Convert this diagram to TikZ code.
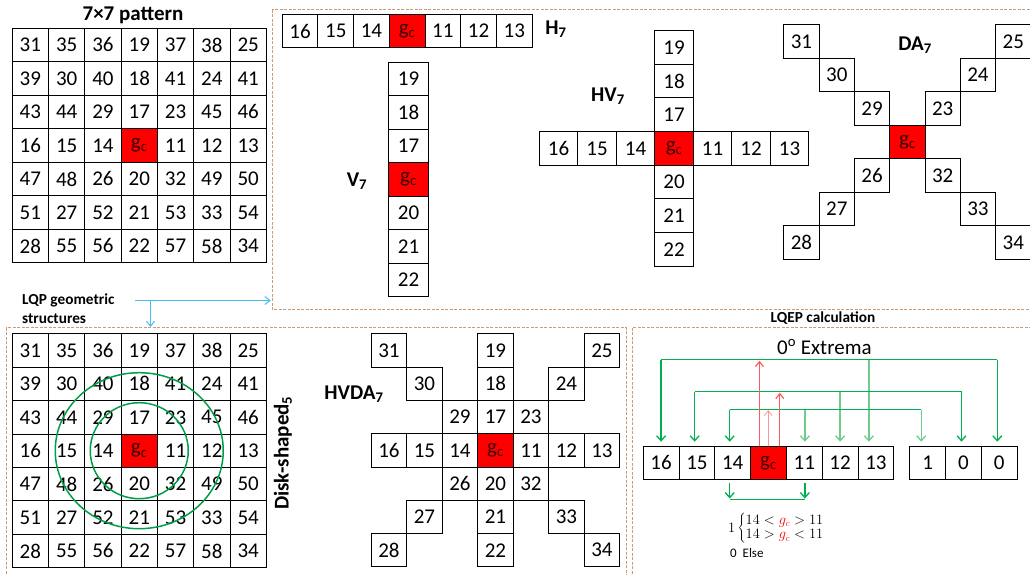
\documentclass[tikz,border=0pt]{standalone}
\usepackage{fontspec}
\setmainfont{Carlito}
\usetikzlibrary{arrows.meta,calc}
\definecolor{boxc}{RGB}{205,155,115}
\definecolor{gline}{RGB}{0,176,80}
\definecolor{glight}{RGB}{110,205,140}
\definecolor{rline}{RGB}{255,90,90}
\definecolor{rlight}{RGB}{255,150,150}
\definecolor{bline}{RGB}{70,190,240}
\definecolor{gctext}{RGB}{60,0,0}
\newcommand{\gcx}{g\textsubscript{c}}
\tikzset{
  cell/.style={draw=black, line width=1pt, inner sep=0pt, anchor=north west,
    font=\fontsize{21}{21}\selectfont, text=black},
  gcell/.style={cell, fill=red, text=gctext},
  lbl/.style={font=\bfseries\fontsize{21}{21}\selectfont, inner sep=0pt},
  small/.style={font=\bfseries\fontsize{15.3}{19}\selectfont, inner sep=0pt},
  dbox/.style={draw=boxc, line width=1pt, dash pattern=on 3pt off 1.5pt},
  garrow/.style={draw=gline, line width=1.3pt, -{Straight Barb[length=5pt,width=9pt]}},
  garrowl/.style={garrow, draw=glight},
  gseg/.style={draw=gline, line width=1.5pt},
  rarrow/.style={draw=rline, line width=1.2pt, -{Straight Barb[length=5pt,width=8pt]}},
  rarrowl/.style={rarrow, draw=rlight, line width=0.8pt},
  barrow/.style={draw=bline, line width=1pt, -{Straight Barb[length=5pt,width=8pt]}},
  ring/.style={draw=gline!90!black, line width=1.5pt}
}
\begin{document}
\begin{tikzpicture}[x=1pt,y=-1pt]
\useasboundingbox (0,0) rectangle (1030,575);
% dashed frames
\draw[dbox] (272,10) rectangle (1040,309.3);
\draw[dbox] (6,327.5) rectangle (626,590);
\draw[dbox] (632.5,327.5) rectangle (1040,590);

% ---------- 7x7 pattern ----------
\node[lbl] (tpat) at (133,15) {7×7 pattern};
\begin{scope}[cell/.append style={minimum width=36.3pt, minimum height=33.5pt}]
\foreach \row [count=\j] in {{31,35,36,19,37,38,25},{39,30,40,18,41,24,41},{43,44,29,17,23,45,46},{16,15,14,X,11,12,13},{47,48,26,20,32,49,50},{51,27,52,21,53,33,54},{28,55,56,22,57,58,34}}{
  \foreach \v [count=\i] in \row {
    \ifnum\i\j=44
      \node[gcell] (p-\i-\j) at ({11.7+(\i-1)*36.3},{27.7+(\j-1)*33.5}) {\gcx};
    \else
      \node[cell] (p-\i-\j) at ({11.7+(\i-1)*36.3},{27.7+(\j-1)*33.5}) {\v};
    \fi
  }}
\end{scope}

% ---------- H7 ----------
\begin{scope}[cell/.append style={minimum width=35.7pt, minimum height=33.3pt}]
\foreach \v [count=\i] in {16,15,14,X,11,12,13}{
  \ifnum\i=4
    \node[gcell] (h-\i) at ({281.7+(\i-1)*35.7},14) {\gcx};
  \else
    \node[cell] (h-\i) at ({281.7+(\i-1)*35.7},14) {\v};
  \fi}
\end{scope}
\node[lbl] (th) at (556,29) {H\textsubscript{7}};

% ---------- V7 ----------
\begin{scope}[cell/.append style={minimum width=40.6pt, minimum height=33.5pt}]
\foreach \v [count=\j] in {19,18,17,X,20,21,22}{
  \ifnum\j=4
    \node[gcell] (v-\j) at (387.7,{61.7+(\j-1)*33.5}) {\gcx};
  \else
    \node[cell] (v-\j) at (387.7,{61.7+(\j-1)*33.5}) {\v};
  \fi}
\end{scope}
\node[lbl] (tv) at (357,181) {V\textsubscript{7}};

% ---------- HV7 ----------
\begin{scope}[cell/.append style={minimum width=38.5pt, minimum height=33.6pt}]
\foreach \v [count=\i] in {16,15,14,X,11,12,13}{
  \ifnum\i=4
    \node[gcell] (hv-\i-4) at ({538.8+(\i-1)*38.5},{30.3+3*33.6}) {\gcx};
  \else
    \node[cell] (hv-\i-4) at ({538.8+(\i-1)*38.5},{30.3+3*33.6}) {\v};
  \fi}
\foreach \v [count=\j] in {19,18,17,X,20,21,22}{
  \ifnum\j=4\else
    \node[cell] (hv-4-\j) at (654.3,{30.3+(\j-1)*33.6}) {\v};
  \fi}
\end{scope}
\node[lbl] (thv) at (608,96) {HV\textsubscript{7}};

% ---------- DA7 ----------
\begin{scope}[cell/.append style={minimum width=35.3pt, minimum height=33.5pt}]
\foreach \i/\j/\v in {1/1/31,2/2/30,3/3/29,5/5/32,6/6/33,7/7/34,7/1/25,6/2/24,5/3/23,3/5/26,2/6/27,1/7/28}{
  \node[cell] (da-\i-\j) at ({783.3+(\i-1)*35.3},{24.3+(\j-1)*33.5}) {\v};}
\node[gcell] (da-4-4) at ({783.3+3*35.3},{24.3+3*33.5}) {\gcx};
\end{scope}
\node[lbl] (tda) at (915,45) {DA\textsubscript{7}};

% ---------- LQP geometric structures ----------
\node[small, anchor=west, align=left] (tlqp) at (22,308.5) {LQP geometric\\structures};
\coordinate (ba) at (135,300.5);
\coordinate (bb) at (270.7,300.5);
\coordinate (bc) at (150.5,300.5);
\coordinate (bd) at (150.5,327);
\draw[barrow] (ba) -- (bb);
\draw[barrow] (bc) -- (bd);

% ---------- Disk-shaped ----------
\begin{scope}[cell/.append style={minimum width=36.3pt, minimum height=33.4pt}]
\foreach \row [count=\j] in {{31,35,36,19,37,38,25},{39,30,40,18,41,24,41},{43,44,29,17,23,45,46},{16,15,14,X,11,12,13},{47,48,26,20,32,49,50},{51,27,52,21,53,33,54},{28,55,56,22,57,58,34}}{
  \foreach \v [count=\i] in \row {
    \ifnum\i\j=44
      \node[gcell] (d-\i-\j) at ({11.7+(\i-1)*36.3},{333.3+(\j-1)*33.4}) {\gcx};
    \else
      \node[cell] (d-\i-\j) at ({11.7+(\i-1)*36.3},{333.3+(\j-1)*33.4}) {\v};
    \fi
  }}
\end{scope}
\draw[ring] (d-4-4.center) ellipse [x radius=49, y radius=48];
\draw[ring] (d-4-4.center) ellipse [x radius=84, y radius=78];
\node[lbl, rotate=90] (tdisk) at (283,453) {Disk-shaped\textsubscript{5}};

% ---------- HVDA7 ----------
\begin{scope}[cell/.append style={minimum width=35.5pt, minimum height=33.3pt}]
\foreach \i/\j/\v in {1/1/31,4/1/19,7/1/25,2/2/30,4/2/18,6/2/24,3/3/29,4/3/17,5/3/23,1/4/16,2/4/15,3/4/14,5/4/11,6/4/12,7/4/13,3/5/26,4/5/20,5/5/32,2/6/27,4/6/21,6/6/33,1/7/28,4/7/22,7/7/34}{
  \node[cell] (hd-\i-\j) at ({370.7+(\i-1)*35.5},{333.3+(\j-1)*33.3}) {\v};}
\node[gcell] (hd-4-4) at ({370.7+3*35.5},{333.3+3*33.3}) {\gcx};
\end{scope}
\node[lbl] (thd) at (354,394) {HVDA\textsubscript{7}};

% ---------- LQEP calculation ----------
\node[small] (tlqep) at (823,318) {LQEP calculation};
\node[font=\fontsize{21}{21}\selectfont, inner sep=0pt, anchor=west] (ext) at (777,347) {0\textsuperscript{o} Extrema};
\begin{scope}[cell/.append style={minimum width=35.8pt, minimum height=33.3pt}]
\foreach \v [count=\i] in {16,15,14,X,11,12,13}{
  \ifnum\i=4
    \node[gcell] (q\i) at ({642.7+(\i-1)*35.8},445.7) {\gcx};
  \else
    \node[cell] (q\i) at ({642.7+(\i-1)*35.8},445.7) {\v};
  \fi}
\foreach \v [count=\i] in {1,0,0}{
  \node[cell] (r\i) at ({909.3+(\i-1)*35.8},445.7) {\v};}
\end{scope}

% levels
\coordinate (y1) at (0,359.5);
\coordinate (y2) at (0,391.5);
\coordinate (y3) at (0,409.5);
\coordinate (t1) at ([yshift=4pt]q1.north);
\coordinate (t2) at ([shift={(-2.3pt,4pt)}]q2.north);
\coordinate (t3) at ([shift={(-3pt,4pt)}]q3.north);
\coordinate (t5) at ([shift={(0.6pt,4pt)}]q5.north);
\coordinate (t6) at ([yshift=4pt]q6.north);
\coordinate (t7) at ([shift={(-7pt,4pt)}]q7.north);
\coordinate (u1) at ([shift={(-6.5pt,4pt)}]r1.north);
\coordinate (u2) at ([shift={(-2pt,4pt)}]r2.north);
\coordinate (u3) at ([shift={(-2pt,4pt)}]r3.north);
% level 1
\draw[gseg] (t1 |- y1) -- (u3 |- y1);
\draw[garrow] (t1 |- y1) -- (t1);
\draw[garrowl] (t7 |- y1) -- (t7);
\draw[garrow] (u3 |- y1) -- (u3);
% level 2
\draw[gseg] (t2 |- y2) -- (u2 |- y2);
\draw[garrow] (t2 |- y2) -- (t2);
\draw[garrowl] (t6 |- y2) -- (t6);
\draw[garrow] (u2 |- y2) -- (u2);
% level 3
\draw[gseg] (t3 |- y3) -- (u1 |- y3);
\draw[garrow] (t3 |- y3) -- (t3);
\draw[garrowl] (t5 |- y3) -- (t5);
\draw[garrowl] (u1 |- y3) -- (u1);

% red arrows
\coordinate (ry1) at (0,360.7);
\coordinate (ry2) at (0,410);
\coordinate (ry3) at (0,392.7);
\coordinate (s1) at ([xshift=-9pt]q4.north);
\coordinate (s2) at ([xshift=-0.3pt]q4.north);
\coordinate (s3) at ([xshift=11.3pt]q4.north);
\draw[rarrow] (s1) -- (s1 |- ry1);
\draw[rarrowl] (s2) -- (s2 |- ry2);
\draw[rarrow] (s3) -- (s3 |- ry3);

% bottom bracket
\coordinate (yb) at (0,499.5);
\coordinate (b3) at ([shift={(-3pt,-3pt)}]q3.south);
\coordinate (b5) at ([shift={(0.6pt,-3pt)}]q5.south);
\draw[garrow] (b3) -- ([yshift=1pt]b3 |- yb);
\draw[garrow] (b5) -- ([yshift=1pt]b5 |- yb);
\draw[gseg] (b3 |- yb) -- (b5 |- yb);

% formula
\node[anchor=west, inner sep=0pt, font=\fontsize{13.5}{13.5}\selectfont] (form) at (728,528.5)
  {$1\left\{\renewcommand{\arraystretch}{1.1}\begin{array}{@{}l@{}}14<{\color{red}g_c}>11\\14>{\color{red}g_c}<11\end{array}\right.$};
\node[anchor=west, inner sep=0pt, font=\fontsize{13}{13}\selectfont] (felse) at (730,553) {0\ \ Else};
\end{tikzpicture}
\end{document}
